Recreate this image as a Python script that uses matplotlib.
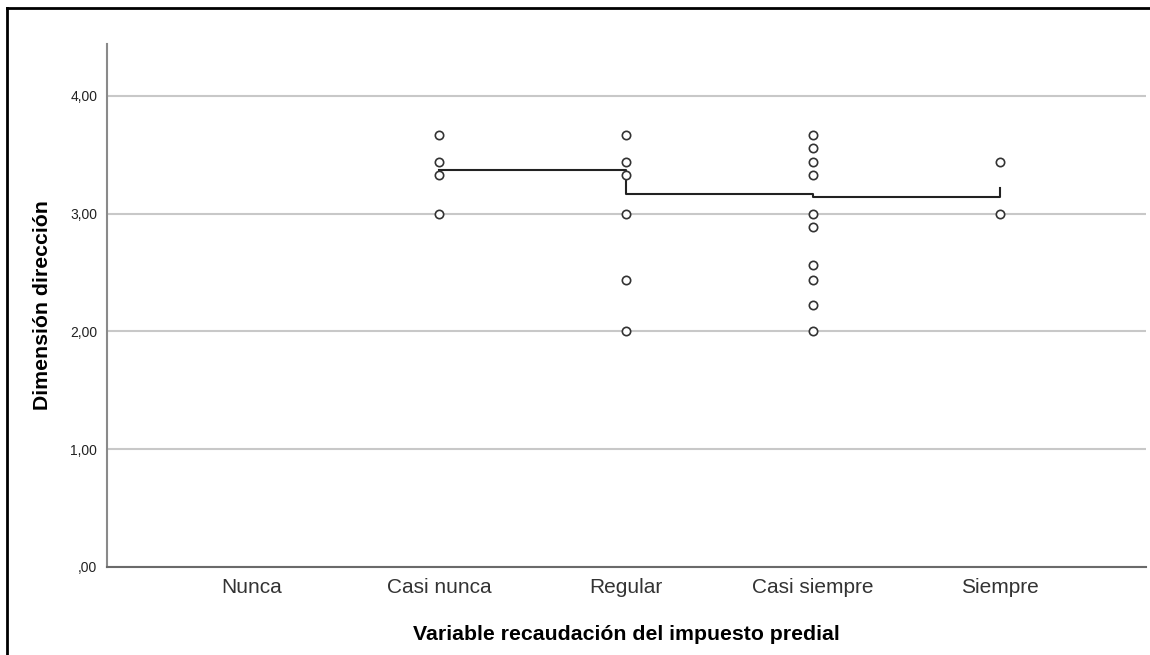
import matplotlib
matplotlib.use("Agg")
import matplotlib.pyplot as plt
from matplotlib.lines import Line2D
from matplotlib.ticker import FuncFormatter

plt.rcParams['font.family'] = ['Liberation Sans', 'DejaVu Sans']

categories = ["Nunca", "Casi nunca", "Regular", "Casi siempre", "Siempre"]

casi_nunca = [3.67, 3.44, 3.33, 3.00]
regular = [3.67, 3.44, 3.33, 3.00, 2.44, 2.00]
casi_siempre = [3.67, 3.56, 3.44, 3.33, 3.00, 2.89, 2.56, 2.44, 2.22, 2.00]
siempre = [3.44, 3.00]

# mean line (step interpolation) for the non-empty categories
mean_cats = [2, 3, 4, 5]
mean_vals = [3.37, 3.17, 3.14, 3.22]

fig = plt.figure(figsize=(11.5, 6.55), dpi=100)
ax = fig.add_axes([0.093, 0.1344, 0.9035, 0.7984])

groups = [(2, casi_nunca), (3, regular), (4, casi_siempre), (5, siempre)]
for pos, vals in groups:
    ax.scatter([pos] * len(vals), vals, s=36, facecolors='white',
               edgecolors='#333333', linewidths=1.2, zorder=3)

ax.plot(mean_cats, mean_vals, drawstyle='steps-post', color='#222222',
        linewidth=1.5, zorder=2)

ax.set_xlim(0.225, 5.78)
ax.set_ylim(0, 4.44)
ax.set_yticks([0, 1, 2, 3, 4])
ax.yaxis.set_major_formatter(FuncFormatter(
    lambda v, p: (",00" if v == 0 else f"{v:.2f}".replace(".", ","))))
ax.set_xticks(range(1, 6))
ax.set_xticklabels(categories)

ax.grid(axis='y', color='#c8c8c8', linewidth=1.5)
ax.set_axisbelow(True)
ax.tick_params(axis='both', length=0)
ax.tick_params(axis='y', labelsize=10, pad=7, labelcolor='#222222')
ax.tick_params(axis='x', labelsize=15, pad=8, labelcolor='#333333')

for side in ['top', 'right']:
    ax.spines[side].set_visible(False)
ax.spines['left'].set_color('#8a8a8a')
ax.spines['left'].set_linewidth(1.5)
ax.spines['bottom'].set_color('#6a6a6a')
ax.spines['bottom'].set_linewidth(1.5)

ax.set_xlabel("Variable recaudación del impuesto predial", fontsize=15.3,
              fontweight='bold', labelpad=20)
ax.set_ylabel("Dimensión dirección", fontsize=15.3, fontweight='bold',
              labelpad=13)

# frame around the output
fig.add_artist(Line2D([0.006, 1.0], [0.9875, 0.9875], color='black',
                      linewidth=2, transform=fig.transFigure))
fig.add_artist(Line2D([0.006, 0.006], [0.0, 0.9875], color='black',
                      linewidth=2, transform=fig.transFigure))

fig.savefig("out.png", dpi=100)
